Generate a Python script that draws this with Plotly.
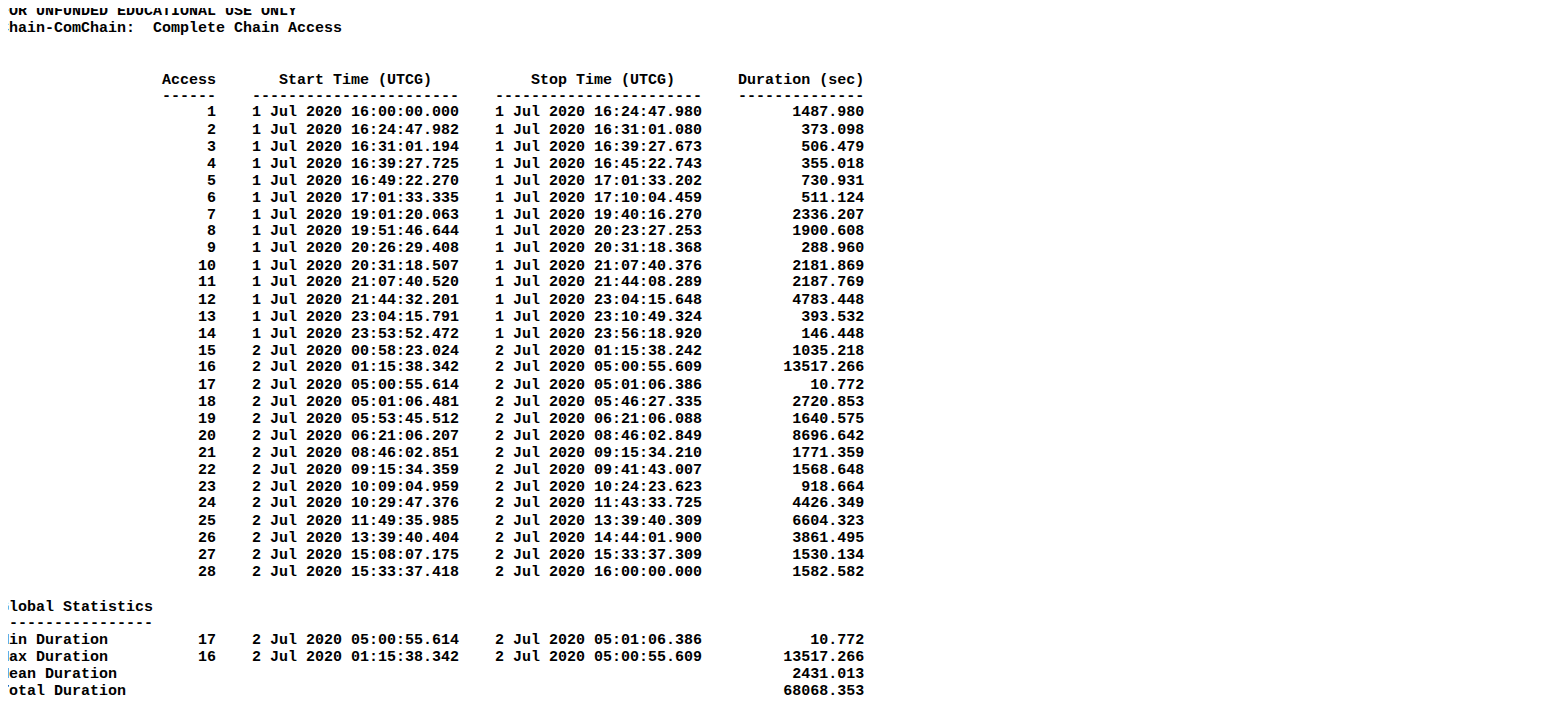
import plotly.graph_objects as go

title_lines = ["FOR UNFUNDED EDUCATIONAL USE ONLY", "Chain-ComChain:  Complete Chain Access"]

access = list(range(1, 29))
start_times = [
    "1 Jul 2020 16:00:00.000", "1 Jul 2020 16:24:47.982", "1 Jul 2020 16:31:01.194",
    "1 Jul 2020 16:39:27.725", "1 Jul 2020 16:49:22.270", "1 Jul 2020 17:01:33.335",
    "1 Jul 2020 19:01:20.063", "1 Jul 2020 19:51:46.644", "1 Jul 2020 20:26:29.408",
    "1 Jul 2020 20:31:18.507", "1 Jul 2020 21:07:40.520", "1 Jul 2020 21:44:32.201",
    "1 Jul 2020 23:04:15.791", "1 Jul 2020 23:53:52.472", "2 Jul 2020 00:58:23.024",
    "2 Jul 2020 01:15:38.342", "2 Jul 2020 05:00:55.614", "2 Jul 2020 05:01:06.481",
    "2 Jul 2020 05:53:45.512", "2 Jul 2020 06:21:06.207", "2 Jul 2020 08:46:02.851",
    "2 Jul 2020 09:15:34.359", "2 Jul 2020 10:09:04.959", "2 Jul 2020 10:29:47.376",
    "2 Jul 2020 11:49:35.985", "2 Jul 2020 13:39:40.404", "2 Jul 2020 15:08:07.175",
    "2 Jul 2020 15:33:37.418",
]
stop_times = [
    "1 Jul 2020 16:24:47.980", "1 Jul 2020 16:31:01.080", "1 Jul 2020 16:39:27.673",
    "1 Jul 2020 16:45:22.743", "1 Jul 2020 17:01:33.202", "1 Jul 2020 17:10:04.459",
    "1 Jul 2020 19:40:16.270", "1 Jul 2020 20:23:27.253", "1 Jul 2020 20:31:18.368",
    "1 Jul 2020 21:07:40.376", "1 Jul 2020 21:44:08.289", "1 Jul 2020 23:04:15.648",
    "1 Jul 2020 23:10:49.324", "1 Jul 2020 23:56:18.920", "2 Jul 2020 01:15:38.242",
    "2 Jul 2020 05:00:55.609", "2 Jul 2020 05:01:06.386", "2 Jul 2020 05:46:27.335",
    "2 Jul 2020 06:21:06.088", "2 Jul 2020 08:46:02.849", "2 Jul 2020 09:15:34.210",
    "2 Jul 2020 09:41:43.007", "2 Jul 2020 10:24:23.623", "2 Jul 2020 11:43:33.725",
    "2 Jul 2020 13:39:40.309", "2 Jul 2020 14:44:01.900", "2 Jul 2020 15:33:37.309",
    "2 Jul 2020 16:00:00.000",
]
durations = [
    1487.980, 373.098, 506.479, 355.018, 730.931, 511.124, 2336.207, 1900.608,
    288.960, 2181.869, 2187.769, 4783.448, 393.532, 146.448, 1035.218, 13517.266,
    10.772, 2720.853, 1640.575, 8696.642, 1771.359, 1568.648, 918.664, 4426.349,
    6604.323, 3861.495, 1530.134, 1582.582,
]

stat_labels = ["Min Duration", "Max Duration", "Mean Duration", "Total Duration"]
stat_access = [17, 16, None, None]
stat_start = ["2 Jul 2020 05:00:55.614", "2 Jul 2020 01:15:38.342", "", ""]
stat_stop = ["2 Jul 2020 05:01:06.386", "2 Jul 2020 05:00:55.609", "", ""]
stat_values = [10.772, 13517.266, 2431.013, 68068.353]


def row(label, acc, st, sp, dur):
    a = "" if acc is None else str(acc)
    return f"{label:<18}{a:>6}    {st:<23}    {sp:<23}{dur:>18.3f}"


lines = [(10, title_lines[0]), (27, title_lines[1])]
lines.append((78, " " * 18 + "Access" + " " * 7 + "Start Time (UTCG)" + " " * 11
              + "Stop Time (UTCG)" + " " * 7 + "Duration (sec)"))
lines.append((94, " " * 18 + "-" * 6 + "    " + "-" * 23 + "    " + "-" * 23 + "    " + "-" * 14))
for i in range(len(access)):
    lines.append((111 + 17 * i, row("", access[i], start_times[i], stop_times[i], durations[i])))
lines.append((605, "Global Statistics"))
lines.append((621, "-" * 17))
for i in range(len(stat_labels)):
    lines.append((638 + 17 * i, row(stat_labels[i], stat_access[i], stat_start[i],
                                    stat_stop[i], stat_values[i]).rstrip()))

W, H = 1563, 701
fig = go.Figure()
for ypx, text in lines:
    fig.add_annotation(
        x=0, y=1 - ypx / H, xref="paper", yref="paper",
        xanchor="left", yanchor="middle", showarrow=False,
        xshift=-10, yshift=6,
        text="<b>" + text.replace(" ", "\u00a0") + "</b>",
        font=dict(family="Liberation Mono", size=15, color="black"),
    )

fig.update_layout(
    width=W, height=H, margin=dict(l=0, r=0, t=0, b=0),
    paper_bgcolor="white", plot_bgcolor="white",
    xaxis=dict(visible=False), yaxis=dict(visible=False),
)
fig.write_html("out.html")
